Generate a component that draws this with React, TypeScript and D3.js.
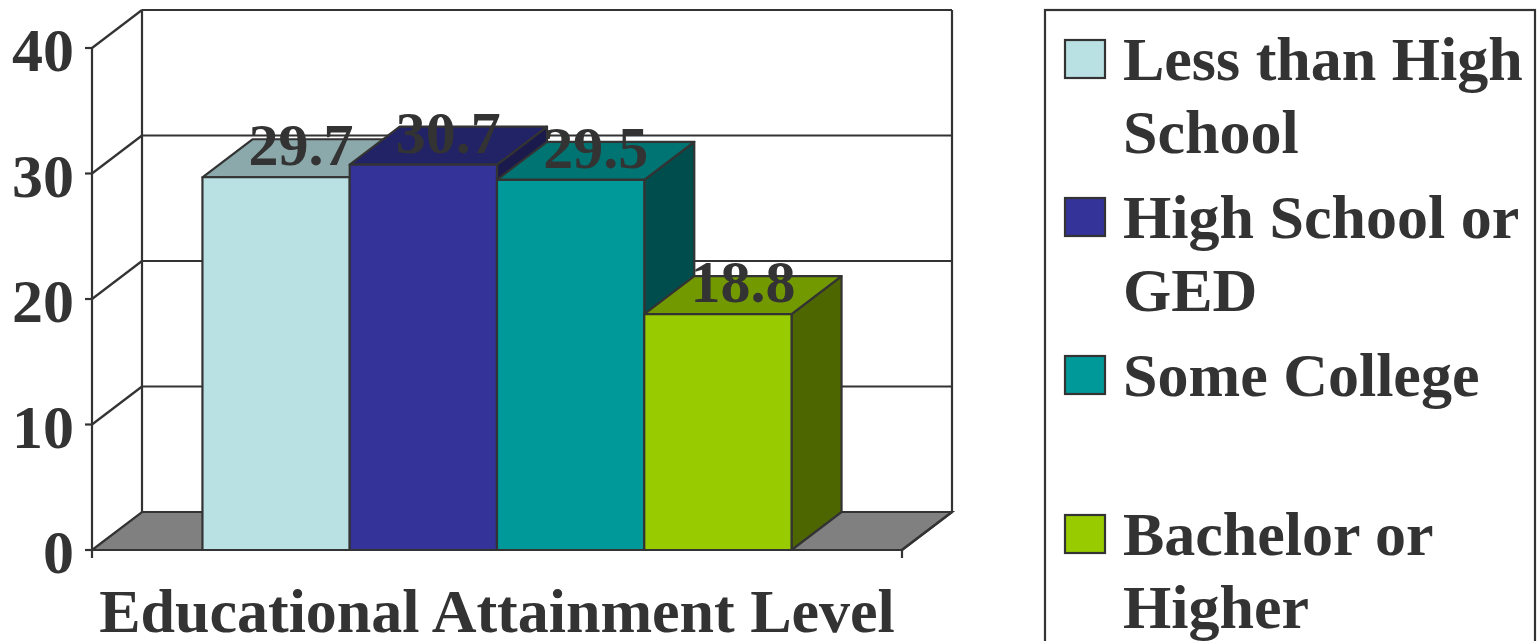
import React, { useEffect, useRef } from "react";
import * as d3 from "d3";

// chart values
const categories = ["Less than High School", "High School or GED", "Some College", "Bachelor or Higher"];
const values = [29.7, 30.7, 29.5, 18.8];
const legendLines = [["Less than High", "School"], ["High School or", "GED"], ["Some College"], ["Bachelor or", "Higher"]];
const frontColors = ["#b9e0e3", "#333399", "#009999", "#99cc00"];
const topColors = ["#8ba9ab", "#222266", "#007373", "#739900"];
const sideColors = ["#6f8a8c", "#1a1a4d", "#004d4d", "#4d6600"];
const yTicks = [0, 10, 20, 30, 40];
const axisTitle = "Educational Attainment Level";

const FONT = "'Liberation Serif', 'Times New Roman', serif";
const INK = "#333333";

export default function App() {
  const ref = useRef<SVGSVGElement>(null);

  useEffect(() => {
    const svg = d3.select(ref.current);
    svg.selectAll("*").remove();

    const x0 = 92, x1 = 902;   // front floor edge
    const dx = 50, dy = -38;   // depth offset
    const y = d3.scaleLinear().domain([0, 40]).range([550, 48]);
    const x = d3.scaleBand<string>().domain(categories).range([x0, x1]).paddingInner(0).paddingOuter(0.75);

    const g = svg.append("g");
    const line = (a: number, b: number, c: number, d: number) =>
      g.append("line").attr("x1", a).attr("y1", b).attr("x2", c).attr("y2", d)
        .attr("stroke", INK).attr("stroke-width", 2.2);

    // floor
    g.append("polygon")
      .attr("points", [[x0, y(0)], [x1, y(0)], [x1 + dx, y(0) + dy], [x0 + dx, y(0) + dy]].join(" "))
      .attr("fill", "#808080").attr("stroke", INK).attr("stroke-width", 2.2);

    // walls + gridlines
    yTicks.forEach(t => {
      if (t === 0) return;
      line(x0, y(t), x0 + dx, y(t) + dy);
      line(x0 + dx, y(t) + dy, x1 + dx, y(t) + dy);
    });
    line(x0 + dx, y(40) + dy, x0 + dx, y(0) + dy);
    line(x1 + dx, y(40) + dy, x1 + dx, y(0) + dy);

    // bars
    categories.forEach((c, i) => {
      const bx = x(c)!, bw = x.bandwidth();
      const top = y(values[i]), bot = y(0);
      const bg = g.append("g").attr("stroke", INK).attr("stroke-width", 2.2).attr("stroke-linejoin", "round");
      bg.append("polygon")
        .attr("points", [[bx + bw, bot], [bx + bw + dx, bot + dy], [bx + bw + dx, top + dy], [bx + bw, top]].join(" "))
        .attr("fill", sideColors[i]);
      bg.append("polygon")
        .attr("points", [[bx, top], [bx + bw, top], [bx + bw + dx, top + dy], [bx + dx, top + dy]].join(" "))
        .attr("fill", topColors[i]);
      bg.append("rect").attr("x", bx).attr("y", top).attr("width", bw).attr("height", bot - top)
        .attr("fill", frontColors[i]);
    });

    // value labels
    categories.forEach((c, i) => {
      g.append("text")
        .attr("x", x(c)! + x.bandwidth() / 2 + dx / 2)
        .attr("y", y(values[i]) + dy / 2 + 7)
        .attr("text-anchor", "middle")
        .attr("font-family", FONT).attr("font-weight", "bold").attr("font-size", 60)
        .attr("fill", INK).text(values[i].toFixed(1));
    });

    // axes
    line(x0, y(0), x0, y(40));
    line(x0, y(0), x1, y(0));
    line(x1, y(0), x1 + dx, y(0) + dy);
    line(x0, y(0), x0, y(0) + 8);
    line(x1, y(0), x1, y(0) + 8);
    yTicks.forEach(t => {
      line(x0 - 7, y(t), x0, y(t));
      g.append("text").attr("x", 74).attr("y", y(t) + 23)
        .attr("text-anchor", "end")
        .attr("font-family", FONT).attr("font-weight", "bold").attr("font-size", 62)
        .attr("fill", INK).text(t);
    });

    g.append("text").attr("x", 497).attr("y", 632)
      .attr("text-anchor", "middle")
      .attr("font-family", FONT).attr("font-weight", "bold").attr("font-size", 62)
      .attr("fill", INK).text(axisTitle);

    // legend
    g.append("rect").attr("x", 1045).attr("y", 10).attr("width", 490).attr("height", 650)
      .attr("fill", "white").attr("stroke", INK).attr("stroke-width", 2.2);
    const legendTop = [40, 198, 356, 515];
    legendLines.forEach((lines, i) => {
      g.append("rect").attr("x", 1065).attr("y", legendTop[i]).attr("width", 40).attr("height", 38)
        .attr("fill", frontColors[i]).attr("stroke", INK).attr("stroke-width", 2.2);
      lines.forEach((s, j) => {
        g.append("text").attr("x", 1123).attr("y", legendTop[i] + 40 + j * 73)
          .attr("font-family", FONT).attr("font-weight", "bold").attr("font-size", 62)
          .attr("fill", INK).text(s);
      });
    });
  }, []);

  return (
    <svg ref={ref} width={1540} height={641}
      style={{ position: "absolute", left: 0, top: 0, background: "white" }} />
  );
}
